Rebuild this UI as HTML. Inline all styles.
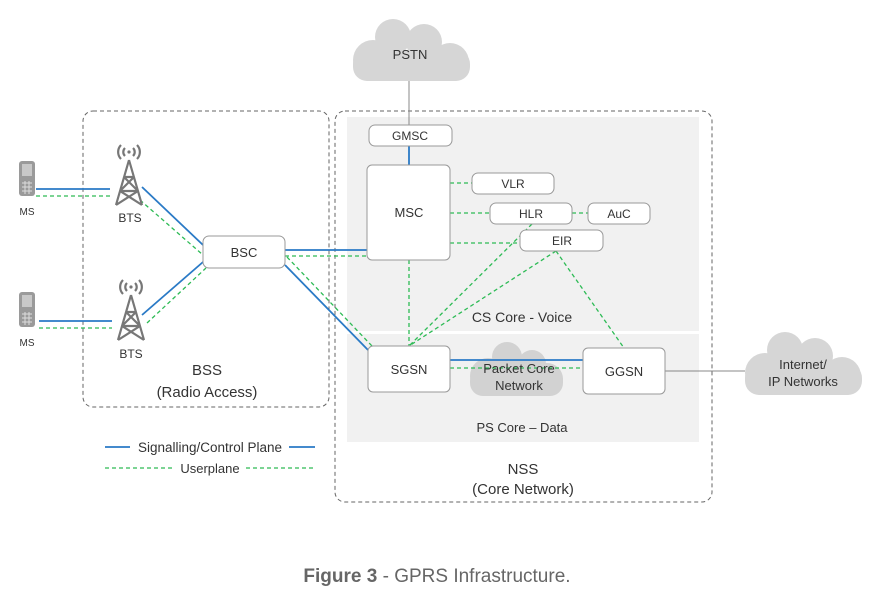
<!DOCTYPE html>
<html><head><meta charset="utf-8"><style>html,body{margin:0;padding:0;background:#fff}svg{display:block}</style></head>
<body>
<svg width="875" height="610" viewBox="0 0 875 610" xmlns="http://www.w3.org/2000/svg" font-family="Liberation Sans, sans-serif">
<defs>
<g id="tower" stroke="#777" stroke-width="2.2" fill="none">
  <path d="M0,0 L-13,45 M0,0 L13,45 M-9,31 L9,31 M-5,17 L5,17 M-5,17 L9,31 M5,17 L-9,31 M-9,31 L13,45 M9,31 L-13,45"/>
  <circle cx="0" cy="-8" r="1.6" fill="#777" stroke="none"/>
  <path d="M-4,-12 A5.5,5.5 0 0 0 -4,-4 M4,-12 A5.5,5.5 0 0 1 4,-4"/>
  <path d="M-8,-15 A10,10 0 0 0 -8,-1 M8,-15 A10,10 0 0 1 8,-1"/>
</g>
<g id="phone">
  <rect x="0" y="0" width="16" height="35" rx="3" fill="#9a9a9a"/>
  <rect x="3" y="3" width="10" height="12" fill="#c8c8c8"/>
  <path d="M3,22 h10 M3,26 h10 M3,30 h10 M6,20 v13 M10,20 v13" stroke="#ddd" stroke-width="1"/>
</g>
</defs>

<rect x="347" y="117" width="352" height="214" fill="#f1f1f1"/>
<rect x="347" y="334" width="352" height="108" fill="#f1f1f1"/>

<rect x="83" y="111" width="246" height="296" rx="10" fill="none" stroke="#666" stroke-width="1" stroke-dasharray="4,3"/>
<rect x="335" y="111" width="377" height="391" rx="10" fill="none" stroke="#666" stroke-width="1" stroke-dasharray="4,3"/>

<g fill="#d6d6d6">
  <circle cx="393" cy="37" r="18"/><circle cx="424" cy="42" r="18"/><circle cx="373" cy="60" r="20"/><circle cx="450" cy="62" r="19"/>
  <rect x="353" y="50" width="117" height="31" rx="14"/>
</g>
<g fill="#d6d6d6">
  <circle cx="785" cy="350" r="18"/><circle cx="815" cy="356" r="18"/><circle cx="765" cy="373" r="20"/><circle cx="842" cy="376" r="19"/>
  <rect x="745" y="364" width="117" height="31" rx="14"/>
</g>
<g fill="#d2d2d2">
  <circle cx="507" cy="357" r="15"/><circle cx="532" cy="364" r="14"/><circle cx="488" cy="376" r="18"/><circle cx="547" cy="379" r="16"/>
  <rect x="470" y="368" width="93" height="28" rx="13"/>
</g>

<line x1="409" y1="81" x2="409" y2="125" stroke="#888" stroke-width="1"/>
<line x1="665" y1="371" x2="745" y2="371" stroke="#888" stroke-width="1"/>

<g stroke="#2a7ac6" stroke-width="1.8" fill="none">
  <line x1="36" y1="189" x2="110" y2="189"/>
  <line x1="39" y1="321" x2="112" y2="321"/>
  <line x1="142" y1="187" x2="203" y2="245"/>
  <line x1="142" y1="315" x2="203" y2="262"/>
  <line x1="285" y1="250" x2="367" y2="250"/>
  <line x1="285" y1="265" x2="368" y2="350"/>
  <line x1="409" y1="146" x2="409" y2="165"/>
  <line x1="450" y1="360" x2="583" y2="360"/>
</g>
<g stroke="#2dbb55" stroke-width="1.3" fill="none" stroke-dasharray="4,3">
  <line x1="36" y1="196" x2="110" y2="196"/>
  <line x1="39" y1="328" x2="112" y2="328"/>
  <line x1="140" y1="200" x2="203" y2="255"/>
  <line x1="147" y1="323" x2="206" y2="268"/>
  <line x1="285" y1="256" x2="367" y2="256"/>
  <line x1="287" y1="257" x2="372" y2="346"/>
  <line x1="450" y1="183" x2="472" y2="183"/>
  <line x1="450" y1="213" x2="490" y2="213"/>
  <line x1="572" y1="213" x2="588" y2="213"/>
  <line x1="450" y1="243" x2="520" y2="243"/>
  <line x1="409" y1="260" x2="409" y2="346"/>
  <line x1="532" y1="224" x2="409" y2="346"/>
  <line x1="556" y1="251" x2="409" y2="346"/>
  <line x1="556" y1="251" x2="624" y2="348"/>
  <line x1="450" y1="368" x2="583" y2="368"/>
</g>

<g fill="#fff" stroke="#999" stroke-width="1">
  <rect x="369" y="125" width="83" height="21" rx="6"/>
  <rect x="367" y="165" width="83" height="95" rx="5"/>
  <rect x="472" y="173" width="82" height="21" rx="6"/>
  <rect x="490" y="203" width="82" height="21" rx="6"/>
  <rect x="588" y="203" width="62" height="21" rx="6"/>
  <rect x="520" y="230" width="83" height="21" rx="6"/>
  <rect x="368" y="346" width="82" height="46" rx="5"/>
  <rect x="583" y="348" width="82" height="46" rx="5"/>
  <rect x="203" y="236" width="82" height="32" rx="6"/>
</g>

<use href="#tower" x="129" y="160"/>
<use href="#tower" x="131" y="295"/>
<use href="#phone" x="19" y="161"/>
<use href="#phone" x="19" y="292"/>

<g fill="#333" font-size="13" text-anchor="middle">
  <text x="410" y="59">PSTN</text>
  <text x="410" y="140" font-size="12">GMSC</text>
  <text x="409" y="217">MSC</text>
  <text x="513" y="188" font-size="12">VLR</text>
  <text x="531" y="218" font-size="12">HLR</text>
  <text x="619" y="218" font-size="12">AuC</text>
  <text x="562" y="245" font-size="12">EIR</text>
  <text x="244" y="257">BSC</text>
  <text x="409" y="374">SGSN</text>
  <text x="624" y="376">GGSN</text>
  <text x="519" y="373">Packet Core</text>
  <text x="519" y="390">Network</text>
  <text x="522" y="322" font-size="14">CS Core - Voice</text>
  <text x="522" y="432">PS Core – Data</text>
  <text x="130" y="222" font-size="12">BTS</text>
  <text x="131" y="358" font-size="12">BTS</text>
  <text x="27" y="215" font-size="10">MS</text>
  <text x="27" y="346" font-size="10">MS</text>
  <text x="207" y="375" font-size="15">BSS</text>
  <text x="207" y="397" font-size="15">(Radio Access)</text>
  <text x="523" y="474" font-size="15">NSS</text>
  <text x="523" y="494" font-size="15">(Core Network)</text>
  <text x="803" y="369">Internet/</text>
  <text x="803" y="386">IP Networks</text>
</g>

<line x1="105" y1="447" x2="130" y2="447" stroke="#2a7ac6" stroke-width="1.8"/>
<line x1="289" y1="447" x2="315" y2="447" stroke="#2a7ac6" stroke-width="1.8"/>
<text x="210" y="452" font-size="13.5" fill="#333" text-anchor="middle">Signalling/Control Plane</text>
<line x1="105" y1="468" x2="175" y2="468" stroke="#2dbb55" stroke-width="1.3" stroke-dasharray="4,3"/>
<line x1="246" y1="468" x2="315" y2="468" stroke="#2dbb55" stroke-width="1.3" stroke-dasharray="4,3"/>
<text x="210" y="473" font-size="13" fill="#333" text-anchor="middle">Userplane</text>

<text x="437" y="582" font-size="19" fill="#666" text-anchor="middle"><tspan font-weight="bold">Figure 3</tspan> - GPRS Infrastructure.</text>
</svg>
</body></html>
